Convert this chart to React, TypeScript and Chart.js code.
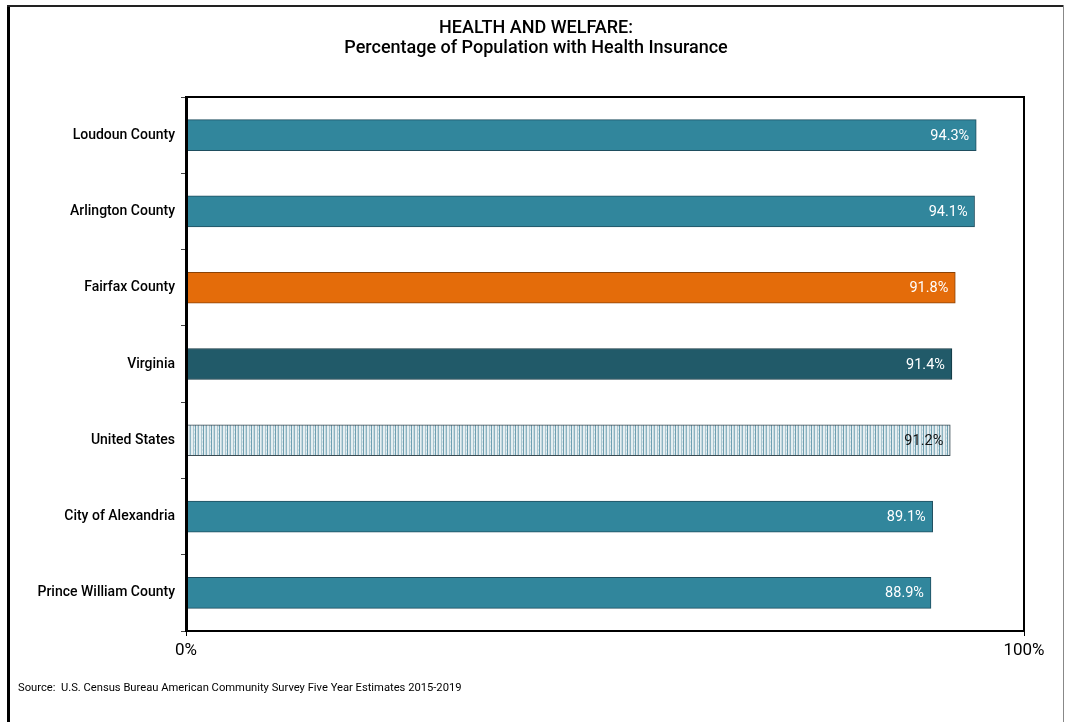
import React, { useEffect, useRef } from "react";
import { Chart, registerables } from "chart.js";

Chart.register(...registerables);

const categories = [
  "Loudoun County",
  "Arlington County",
  "Fairfax County",
  "Virginia",
  "United States",
  "City of Alexandria",
  "Prince William County",
];
const values = [94.3, 94.1, 91.8, 91.4, 91.2, 89.1, 88.9];
const valueLabels = ["94.3%", "94.1%", "91.8%", "91.4%", "91.2%", "89.1%", "88.9%"];
const xTickLabels: Record<number, string> = { 0: "0%", 100: "100%" };
const titleLines = ["HEALTH AND WELFARE:", "Percentage of Population with Health Insurance"];
const sourceText = "Source:  U.S. Census Bureau American Community Survey Five Year Estimates 2015-2019";

const TEAL = "#31869c";
const ORANGE = "#e46c0a";
const DARK = "#215a69";
const FONT = "Roboto, 'Liberation Sans', sans-serif";

function makePattern(): CanvasPattern | string {
  const c = document.createElement("canvas");
  c.width = 8;
  c.height = 4;
  const g = c.getContext("2d");
  if (!g) return "#dfe9ee";
  g.fillStyle = "#e6eef1";
  g.fillRect(0, 0, 8, 4);
  g.fillStyle = "#a9c6d0";
  g.fillRect(1, 0, 1, 4);
  g.fillStyle = "#6d9fb1";
  g.fillRect(3, 0, 1, 4);
  g.fillStyle = "#c4d8df";
  g.fillRect(5, 0, 1, 4);
  g.fillStyle = "#8cb3c1";
  g.fillRect(6, 0, 1, 4);
  g.fillStyle = "#d2e0e5";
  g.fillRect(2, 1, 1, 2);
  const p = g.createPattern(c, "repeat");
  return p || "#dfe9ee";
}

export default function App() {
  const ref = useRef<HTMLCanvasElement>(null);

  useEffect(() => {
    if (!ref.current) return;
    const pattern = makePattern();
    const colors = [TEAL, TEAL, ORANGE, DARK, pattern, TEAL, TEAL];
    const borders = ["#1f4e5f", "#1f4e5f", "#8a4206", "#123540", "#3a4a52", "#1f4e5f", "#1f4e5f"];
    const labelColors = ["#fff", "#fff", "#fff", "#fff", "#111", "#fff", "#fff"];

    const decor = {
      id: "decor",
      beforeDraw(chart: any) {
        const ctx = chart.ctx;
        ctx.save();
        ctx.fillStyle = "#fff";
        ctx.fillRect(0, 0, chart.width, chart.height);
        ctx.restore();
      },
      afterDraw(chart: any) {
        const ctx = chart.ctx;
        const a = chart.chartArea;
        ctx.save();
        // frame
        ctx.fillStyle = "#000";
        ctx.fillRect(7, 5, 3, chart.height);
        ctx.fillStyle = "#222";
        ctx.fillRect(7, 5, 1057, 2);
        ctx.fillStyle = "#888";
        ctx.fillRect(1063, 5, 1, chart.height);
        // plot box
        ctx.strokeStyle = "#000";
        ctx.lineWidth = 2;
        ctx.beginPath();
        ctx.moveTo(a.left, a.top);
        ctx.lineTo(a.right, a.top);
        ctx.lineTo(a.right, a.bottom);
        ctx.lineTo(a.left, a.bottom);
        ctx.stroke();
        ctx.fillStyle = "#000";
        ctx.fillRect(a.left - 1, a.top - 1, 3, a.bottom - a.top + 2);
        // title
        ctx.fillStyle = "#000";
        ctx.textAlign = "center";
        ctx.textBaseline = "middle";
        ctx.font = `500 18px ${FONT}`;
        ctx.fillText(titleLines[0], 536, 28);
        ctx.fillText(titleLines[1], 536, 48);
        // source
        ctx.textAlign = "left";
        ctx.font = `11.2px ${FONT}`;
        ctx.fillText(sourceText, 18, 688);
        // value labels
        const meta = chart.getDatasetMeta(0);
        ctx.font = `14.5px ${FONT}`;
        ctx.textAlign = "right";
        meta.data.forEach((bar: any, i: number) => {
          ctx.fillStyle = labelColors[i];
          ctx.fillText(valueLabels[i], bar.x - 7, bar.y + 1);
        });
        ctx.restore();
      },
    };

    const chart = new Chart(ref.current, {
      type: "bar",
      data: {
        labels: categories,
        datasets: [
          {
            data: values,
            backgroundColor: colors as any,
            borderColor: borders,
            borderWidth: 1,
            borderSkipped: false,
            barThickness: 31,
          },
        ],
      },
      options: {
        indexAxis: "y",
        animation: false,
        responsive: false,
        devicePixelRatio: 1,
        layout: { padding: { top: 97, right: 42, left: 0, bottom: 0 } },
        plugins: { legend: { display: false }, title: { display: false }, tooltip: { enabled: false } },
        scales: {
          x: {
            min: 0,
            max: 100,
            afterFit(scale: any) {
              scale.height = 91;
            },
            afterBuildTicks(scale: any) {
              scale.ticks = [{ value: 0 }, { value: 100 }];
            },
            ticks: {
              autoSkip: false,
              maxRotation: 0,
              padding: 5,
              color: "#000",
              font: { family: FONT, size: 17 },
              callback: (v: any) => xTickLabels[Number(v)] ?? "",
            },
            grid: { drawOnChartArea: false, tickLength: 5, color: "#000" },
            border: { display: false },
          },
          y: {
            afterFit(scale: any) {
              scale.width = 186;
            },
            ticks: {
              padding: 6,
              color: "#000",
              font: { family: FONT, size: 14, weight: "500" as any },
            },
            grid: { drawOnChartArea: false, offset: true, tickLength: 5, color: "#444" },
            border: { display: false },
          },
        },
      },
      plugins: [decor],
    });
    return () => chart.destroy();
  }, []);

  return (
    <div style={{ position: "fixed", left: 0, top: 0, width: 1066, height: 722 }}>
      <canvas ref={ref} width={1066} height={722} style={{ width: 1066, height: 722, display: "block" }} />
    </div>
  );
}
